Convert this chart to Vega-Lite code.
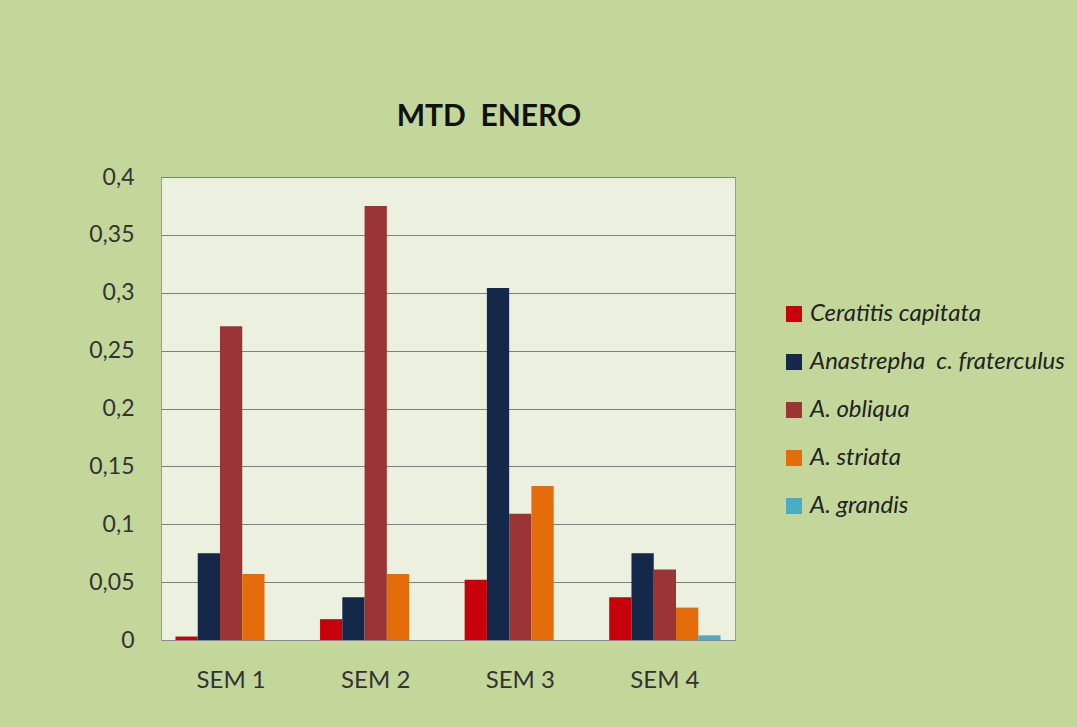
{
  "$schema": "https://vega.github.io/schema/vega-lite/v6.json",
  "autosize": {"type": "none"},
  "padding": {"left": 161, "top": 177, "right": 342, "bottom": 87},
  "width": 574,
  "height": 463,
  "background": "#c4d79b",
  "title": {"text": "MTD\u00a0 ENERO", "fontSize": 30, "font": "Lato", "fontWeight": "bold", "color": "#111111", "anchor": "middle", "frame": "group", "dx": 41, "offset": 34},
  "data": {"values": [
    {"sem": "SEM 1", "especie": "Ceratitis capitata", "v": 0.003},
    {"sem": "SEM 1", "especie": "Anastrepha\u00a0 c. fraterculus", "v": 0.075},
    {"sem": "SEM 1", "especie": "A. obliqua", "v": 0.271},
    {"sem": "SEM 1", "especie": "A. striata", "v": 0.057},
    {"sem": "SEM 1", "especie": "A. grandis", "v": 0},
    {"sem": "SEM 2", "especie": "Ceratitis capitata", "v": 0.018},
    {"sem": "SEM 2", "especie": "Anastrepha\u00a0 c. fraterculus", "v": 0.037},
    {"sem": "SEM 2", "especie": "A. obliqua", "v": 0.375},
    {"sem": "SEM 2", "especie": "A. striata", "v": 0.057},
    {"sem": "SEM 2", "especie": "A. grandis", "v": 0},
    {"sem": "SEM 3", "especie": "Ceratitis capitata", "v": 0.052},
    {"sem": "SEM 3", "especie": "Anastrepha\u00a0 c. fraterculus", "v": 0.304},
    {"sem": "SEM 3", "especie": "A. obliqua", "v": 0.109},
    {"sem": "SEM 3", "especie": "A. striata", "v": 0.133},
    {"sem": "SEM 3", "especie": "A. grandis", "v": 0},
    {"sem": "SEM 4", "especie": "Ceratitis capitata", "v": 0.037},
    {"sem": "SEM 4", "especie": "Anastrepha\u00a0 c. fraterculus", "v": 0.075},
    {"sem": "SEM 4", "especie": "A. obliqua", "v": 0.061},
    {"sem": "SEM 4", "especie": "A. striata", "v": 0.028},
    {"sem": "SEM 4", "especie": "A. grandis", "v": 0.004}
  ]},
  "mark": {"type": "bar"},
  "encoding": {
    "x": {"field": "sem", "type": "nominal", "title": null,
      "scale": {"paddingInner": 0.23, "paddingOuter": 0.1},
      "axis": {"labelAngle": 0, "labelFontSize": 24, "labelFont": "Lato", "labelColor": "#333333", "ticks": false, "domainColor": "#8a8a8a", "labelPadding": 28}},
    "xOffset": {"field": "especie", "type": "nominal", "sort": ["Ceratitis capitata", "Anastrepha\u00a0 c. fraterculus", "A. obliqua", "A. striata", "A. grandis"]},
    "y": {"field": "v", "type": "quantitative", "title": null,
      "scale": {"domain": [0, 0.4], "nice": false},
      "axis": {"values": [0, 0.05, 0.1, 0.15, 0.2, 0.25, 0.3, 0.35, 0.4], "format": "~g", "labelFontSize": 23, "labelFont": "Lato", "labelColor": "#333333", "ticks": false, "domain": false, "gridColor": "#7f7f7f", "gridOpacity": 1, "labelPadding": 27}},
    "color": {"field": "especie", "type": "nominal", "title": null,
      "sort": ["Ceratitis capitata", "Anastrepha\u00a0 c. fraterculus", "A. obliqua", "A. striata", "A. grandis"],
      "scale": {"domain": ["Ceratitis capitata", "Anastrepha\u00a0 c. fraterculus", "A. obliqua", "A. striata", "A. grandis"], "range": ["#c8000a", "#14284a", "#9b3535", "#e46c0a", "#4bacc6"]},
      "legend": {"orient": "none", "legendX": 621, "legendY": 125, "symbolType": "square", "symbolSize": 256, "symbolStrokeWidth": 0, "labelFontSize": 24, "labelFont": "Lato", "labelFontStyle": "italic", "labelColor": "#222222", "rowPadding": 24, "labelOffset": 4, "labelLimit": 400}}
  },
  "config": {
    "locale": {"number": {"decimal": ",", "thousands": ".", "grouping": [3], "currency": ["", " €"]}},
    "view": {"fill": "#ebf1de", "stroke": "#9a9a9a"}
  }
}
